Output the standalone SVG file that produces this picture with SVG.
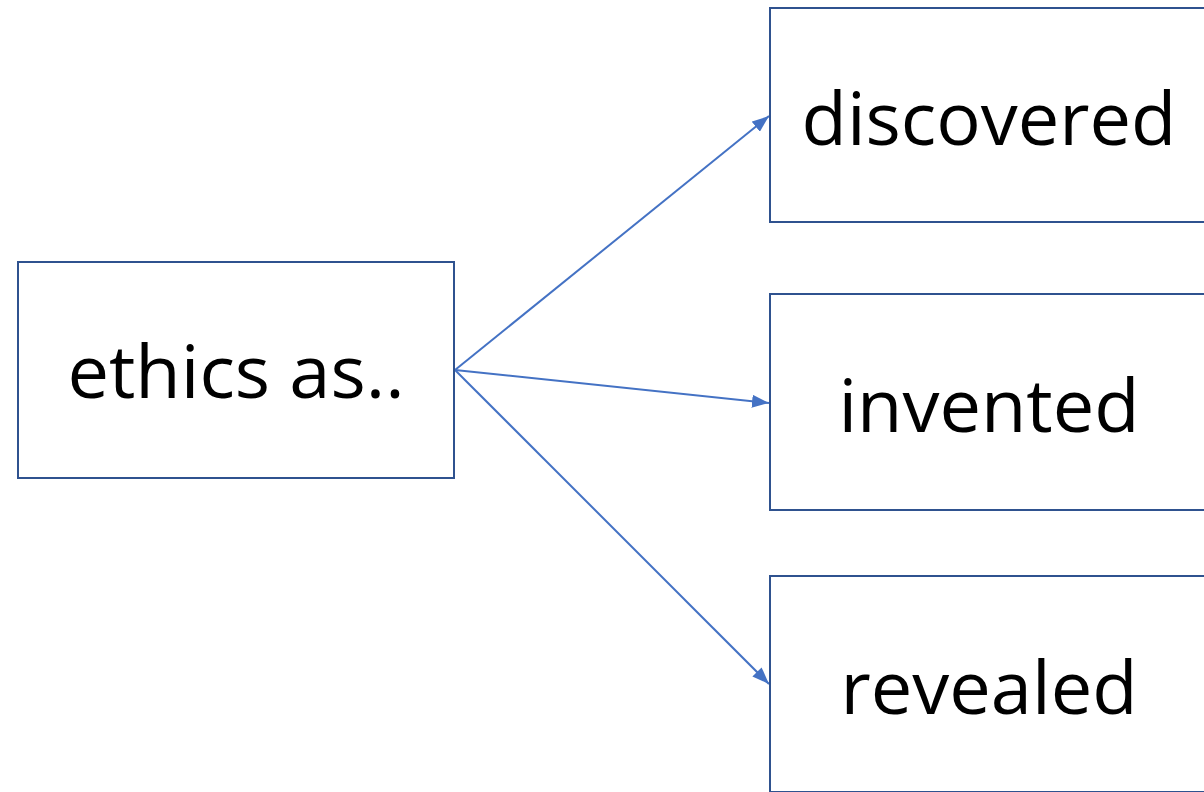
<svg xmlns="http://www.w3.org/2000/svg" width="1204" height="792" viewBox="0 0 1204 792">
<style>
.box{fill:#ffffff;stroke:#2F528F;stroke-width:2}
.lbl{font-family:"Open Sans","Liberation Sans",sans-serif;font-size:74px;fill:#000000;text-anchor:middle}
.conn{stroke:#4472C4;stroke-width:2;fill:none}
</style>
<defs>
<marker id="arrow" markerUnits="userSpaceOnUse" markerWidth="18" markerHeight="13" refX="17" refY="6.5" orient="auto">
<path d="M0,0 L17,6.5 L0,13 Z" fill="#4472C4"/>
</marker>
</defs>
<rect width="1204" height="792" fill="#ffffff"/>
<g id="connectors">
<line class="conn" x1="455" y1="370" x2="769" y2="116" marker-end="url(#arrow)"/>
<line class="conn" x1="455" y1="370" x2="769" y2="403" marker-end="url(#arrow)"/>
<line class="conn" x1="455" y1="370" x2="769" y2="684" marker-end="url(#arrow)"/>
</g>
<g id="node-ethics">
<rect class="box" x="18" y="262" width="436" height="216"/>
<text class="lbl" x="236" y="398">ethics as..</text>
</g>
<g id="node-discovered">
<rect class="box" x="770" y="8" width="440" height="214"/>
<text class="lbl" x="989" y="145">discovered</text>
</g>
<g id="node-invented">
<rect class="box" x="770" y="294" width="440" height="216"/>
<text class="lbl" x="989" y="432">invented</text>
</g>
<g id="node-revealed">
<rect class="box" x="770" y="576" width="440" height="216"/>
<text class="lbl" x="989" y="714">revealed</text>
</g>
</svg>
